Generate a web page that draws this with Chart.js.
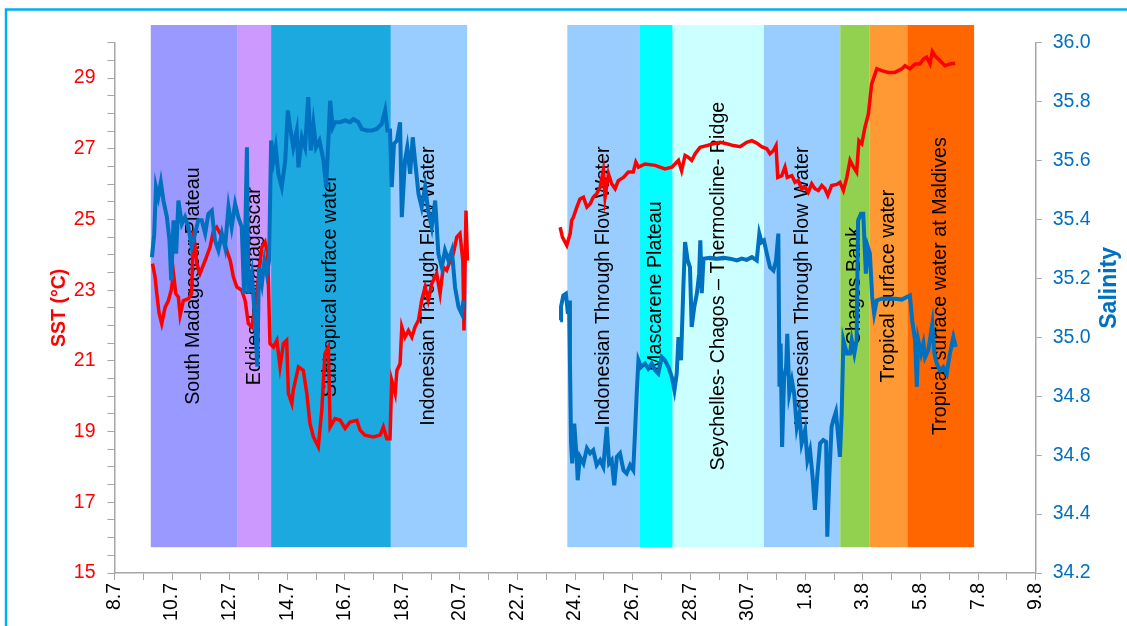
<!DOCTYPE html>
<html>
<head>
<meta charset="utf-8">
<script src="https://cdn.jsdelivr.net/npm/chart.js"></script>
<style>
  html, body { margin: 0; padding: 0; background: #fff; }
  #wrap { width: 1127px; height: 626px; }
</style>
</head>
<body>
<div id="wrap"><canvas id="sstChart" width="1127" height="626"></canvas></div>
<script>
// x axis: days since 8 July, one tick label every two days
const xTickLabels = ['8.7', '10.7', '12.7', '14.7', '16.7', '18.7', '20.7', '22.7', '24.7',
  '26.7', '28.7', '30.7', '1.8', '3.8', '5.8', '7.8', '9.8'];
const sstTickLabels = ['15', '17', '19', '21', '23', '25', '27', '29'];
const salTickLabels = ['34.2', '34.4', '34.6', '34.8', '35.0', '35.2', '35.4', '35.6', '35.8', '36.0'];

// water masses crossed along the track (start / end day)
const regionNames = ['South Madagascar Plateau', 'Eddies E. Madagascar', 'Subtropical surface water',
  'Indonesian Through Flow Water', 'Indonesian Through Flow Water', 'Mascarene Plateau',
  'Seychelles- Chagos \u2013 Thermocline- Ridge', 'Indonesian Through Flow Water', 'Chagos Bank',
  'Tropical surface water', 'Tropical surface water at Maldives'];
const regionStart = [1.26, 4.26, 5.44, 9.6, 15.73, 18.23, 19.39, 22.56, 25.21, 26.22, 27.54];
const regionEnd = [4.26, 5.44, 9.6, 12.25, 18.23, 19.39, 22.56, 25.21, 26.22, 27.54, 29.86];
const regionColors = ['#9999FF', '#CC99FF', '#1CA9DF', '#99CCFF', '#99CCFF', '#00FFFF',
  '#CCFFFF', '#99CCFF', '#92D050', '#FF9933', '#FF6600'];

// SST (°C), [day, value]
const sstLeg1 = [[1.32,23.75],[1.41,23.37],[1.47,22.9],[1.55,22.34],[1.64,22.05],[1.76,22.52],[1.87,22.7],
  [1.97,23.0],[2.05,23.47],[2.13,22.9],[2.22,22.8],[2.28,22.29],[2.39,22.7],[2.57,22.76],[2.68,22.9],
  [2.74,24.69],[2.86,23.75],[2.97,23.47],[3.15,23.84],[3.32,24.22],[3.44,24.69],[3.55,24.78],[3.67,24.6],
  [3.78,24.5],[3.9,24.12],[4.02,23.84],[4.13,23.37],[4.25,23.09],[4.42,23.0],[4.54,22.7],[4.65,22.05],
  [4.77,21.96],[4.94,22.9],[5.12,24.22],[5.23,24.36],[5.32,24.03],[5.4,21.49],[5.52,21.39],[5.64,21.58],
  [5.75,20.83],[5.87,21.49],[5.98,21.58],[6.04,20.08],[6.16,19.8],[6.21,20.17],[6.39,20.83],[6.56,20.73],
  [6.68,20.08],[6.79,19.23],[6.91,18.85],[7.08,18.57],[7.2,19.6],[7.31,21.2],[7.43,21.39],[7.49,19.13],
  [7.66,19.37],[7.84,19.32],[8.01,19.09],[8.18,19.27],[8.42,19.32],[8.53,19.04],[8.7,18.9],[8.99,18.85],
  [9.23,18.9],[9.34,19.13],[9.46,18.8],[9.57,18.8],[9.63,20.45],[9.75,20.08],[9.81,20.73],[9.92,20.92],
  [9.98,21.96],[10.09,21.67],[10.21,21.86],[10.33,21.67],[10.44,21.96],[10.56,22.15],[10.67,22.71],
  [10.79,23.09],[10.9,22.71],[11.02,23.18],[11.19,23.47],[11.31,22.9],[11.42,23.65],[11.54,23.56],
  [11.66,23.84],[11.77,24.03],[11.89,24.5],[12.0,24.6],[12.1,23.84],[12.14,21.86],[12.21,25.25],[12.26,23.84]];
const sstLeg2 = [[15.48,24.78],[15.56,24.5],[15.71,24.27],[15.83,24.6],[15.88,24.97],[15.94,25.06],
  [16.06,25.35],[16.17,25.58],[16.29,25.63],[16.41,25.35],[16.52,25.44],[16.63,25.63],[16.75,25.73],
  [16.87,25.91],[16.98,26.38],[17.04,25.63],[17.16,26.29],[17.27,26.01],[17.39,25.87],[17.5,26.1],
  [17.68,26.19],[17.85,26.34],[18.02,26.34],[18.11,26.62],[18.2,26.48],[18.43,26.57],[18.78,26.53],
  [19.12,26.43],[19.36,26.48],[19.59,26.67],[19.7,26.38],[19.82,26.81],[19.93,26.76],[20.05,26.67],
  [20.17,26.86],[20.34,27.04],[20.57,27.09],[20.8,27.14],[21.04,27.18],[21.27,27.14],[21.5,27.09],
  [21.73,27.06],[21.96,27.18],[22.14,27.23],[22.31,27.16],[22.48,27.06],[22.66,27.0],[22.77,26.86],
  [22.89,26.95],[22.98,27.09],[23.04,26.19],[23.18,26.24],[23.29,26.48],[23.37,26.19],[23.53,26.24],
  [23.64,26.05],[23.75,26.1],[23.87,25.87],[23.99,25.91],[24.1,25.77],[24.22,26.01],[24.33,25.87],
  [24.45,25.82],[24.57,25.96],[24.68,25.87],[24.78,25.68],[24.91,25.96],[25.09,25.99],[25.2,26.05],
  [25.32,25.82],[25.44,26.19],[25.55,26.67],[25.67,26.48],[25.78,26.34],[25.86,27.23],[25.96,27.14],
  [26.07,27.61],[26.19,27.99],[26.3,28.83],[26.48,29.26],[26.65,29.21],[26.88,29.16],[27.11,29.16],
  [27.35,29.26],[27.46,29.35],[27.63,29.26],[27.81,29.4],[27.98,29.4],[28.1,29.54],[28.21,29.59],
  [28.33,29.4],[28.41,29.75],[28.5,29.63],[28.68,29.49],[28.85,29.35],[29.02,29.4],[29.2,29.42]];

// Salinity, [day, value]
const salLeg1 = [[1.3,35.272],[1.38,35.35],[1.44,35.51],[1.52,35.476],[1.61,35.526],[1.7,35.464],
  [1.82,35.408],[1.91,35.329],[1.97,35.193],[2.05,35.397],[2.14,35.284],[2.22,35.464],[2.34,35.385],
  [2.45,35.408],[2.57,35.374],[2.68,35.306],[2.8,35.352],[2.91,35.397],[3.03,35.397],[3.15,35.352],
  [3.26,35.419],[3.38,35.43],[3.49,35.329],[3.61,35.295],[3.73,35.352],[3.84,35.306],[3.96,35.442],
  [4.07,35.374],[4.19,35.453],[4.3,35.408],[4.42,35.374],[4.5,35.148],[4.6,35.645],[4.65,35.148],
  [4.77,35.216],[4.88,35.058],[4.96,34.9],[5.02,35.238],[5.12,35.182],[5.21,35.261],[5.29,35.216],
  [5.37,35.261],[5.44,35.668],[5.52,35.6],[5.6,35.645],[5.69,35.555],[5.81,35.51],[5.93,35.6],
  [6.02,35.77],[6.1,35.713],[6.21,35.645],[6.33,35.702],[6.39,35.577],[6.51,35.679],[6.62,35.645],
  [6.73,35.815],[6.82,35.634],[6.91,35.724],[7.0,35.645],[7.12,35.668],[7.26,35.6],[7.35,35.51],
  [7.43,35.668],[7.49,35.803],[7.58,35.713],[7.66,35.73],[7.84,35.73],[8.01,35.736],[8.18,35.73],
  [8.3,35.741],[8.47,35.73],[8.59,35.707],[8.76,35.702],[8.94,35.702],[9.11,35.707],[9.28,35.724],
  [9.4,35.77],[9.48,35.702],[9.57,35.702],[9.63,35.51],[9.71,35.657],[9.81,35.668],[9.92,35.73],
  [9.98,35.408],[10.09,35.6],[10.17,35.645],[10.27,35.555],[10.36,35.679],[10.44,35.6],[10.56,35.487],
  [10.67,35.442],[10.79,35.51],[10.9,35.43],[11.02,35.374],[11.14,35.464],[11.25,35.284],[11.37,35.238],
  [11.48,35.295],[11.6,35.261],[11.72,35.295],[11.83,35.17],[11.95,35.103],[12.06,35.08],[12.12,35.125]];
const salLeg2 = [[15.48,35.058],[15.51,35.103],[15.59,35.142],[15.68,35.148],[15.75,35.08],[15.79,35.125],
  [15.82,34.922],[15.86,34.64],[15.9,34.572],[15.97,34.707],[16.06,34.583],[16.09,34.515],[16.17,34.594],
  [16.29,34.572],[16.41,34.623],[16.52,34.606],[16.63,34.617],[16.75,34.566],[16.87,34.583],[16.98,34.56],
  [17.1,34.696],[17.18,34.572],[17.27,34.583],[17.36,34.498],[17.45,34.594],[17.56,34.606],[17.68,34.549],
  [17.79,34.538],[17.91,34.566],[18.02,34.549],[18.08,34.674],[18.14,34.809],[18.2,34.922],[18.29,34.899],
  [18.43,34.911],[18.54,34.894],[18.66,34.911],[18.78,34.888],[18.89,34.877],[19.01,34.933],[19.12,34.922],
  [19.24,34.899],[19.36,34.865],[19.45,34.82],[19.53,34.877],[19.59,35.001],[19.68,34.922],[19.76,35.17],
  [19.82,35.323],[19.91,35.261],[19.99,35.238],[20.05,35.035],[20.14,35.103],[20.23,35.148],[20.31,35.216],
  [20.35,35.329],[20.4,35.15],[20.46,35.267],[20.69,35.27],[20.92,35.267],[21.15,35.27],[21.38,35.267],
  [21.62,35.261],[21.79,35.267],[21.96,35.263],[22.14,35.272],[22.31,35.261],[22.4,35.352],[22.48,35.323],
  [22.56,35.329],[22.66,35.284],[22.77,35.238],[22.89,35.227],[22.98,35.261],[23.06,35.352],[23.1,34.832],
  [23.14,34.979],[23.19,34.628],[23.26,34.865],[23.33,34.899],[23.37,35.012],[23.44,34.809],[23.53,34.854],
  [23.61,34.809],[23.7,34.696],[23.79,34.741],[23.87,34.64],[23.99,34.685],[24.07,34.583],[24.16,34.617],
  [24.25,34.526],[24.33,34.414],[24.41,34.526],[24.51,34.64],[24.62,34.651],[24.72,34.645],[24.76,34.323],
  [24.83,34.526],[24.91,34.696],[24.97,34.719],[25.06,34.747],[25.14,34.662],[25.2,34.594],[25.26,34.741],
  [25.32,34.99],[25.44,34.945],[25.55,34.945],[25.61,34.99],[25.7,34.945],[25.78,34.99],[25.83,35.397],
  [25.93,35.419],[26.01,35.419],[26.1,35.216],[26.17,35.306],[26.24,35.284],[26.32,35.137],[26.39,35.08],
  [26.48,35.125],[26.65,35.131],[26.88,35.131],[27.11,35.131],[27.35,35.128],[27.52,35.137],[27.63,35.142],
  [27.71,35.058],[27.81,34.99],[27.87,34.832],[27.92,34.99],[28.02,34.945],[28.1,34.979],[28.16,34.933],
  [28.27,34.956],[28.41,35.046],[28.48,34.945],[28.56,34.911],[28.68,34.888],[28.79,34.899],[28.91,34.877],
  [29.02,34.945],[29.14,35.001],[29.22,34.967]];

const gapDay = 14; // no data between the two legs
const FONT = '"Liberation Sans", Arial, sans-serif';
const AXIS_GREY = '#A6A6A6';

function toPoints(leg1, leg2) {
  const pts = leg1.map(p => ({ x: p[0], y: p[1] }));
  pts.push({ x: gapDay, y: null });
  return pts.concat(leg2.map(p => ({ x: p[0], y: p[1] })));
}

// coloured bands with their names, drawn under the lines
const regionPlugin = {
  id: 'regions',
  beforeDatasetsDraw(chart) {
    const { ctx, scales: { x, y } } = chart;
    const top = y.getPixelForValue(30.5);
    const bottom = y.getPixelForValue(15.73);
    ctx.save();
    regionNames.forEach((name, i) => {
      const x0 = x.getPixelForValue(regionStart[i]);
      const x1 = x.getPixelForValue(regionEnd[i]);
      ctx.fillStyle = regionColors[i];
      ctx.fillRect(x0, top, x1 - x0, bottom - top);
    });
    ctx.fillStyle = '#000';
    ctx.font = '19.7px ' + FONT;
    ctx.textAlign = 'center';
    ctx.textBaseline = 'middle';
    regionNames.forEach((name, i) => {
      const cx = (x.getPixelForValue(regionStart[i]) + x.getPixelForValue(regionEnd[i])) / 2;
      ctx.save();
      ctx.translate(cx, (top + bottom) / 2);
      ctx.rotate(-Math.PI / 2);
      ctx.fillText(name, 0, 0);
      ctx.restore();
    });
    ctx.restore();
  }
};

// outer frame and both axis titles (both read bottom to top)
const framePlugin = {
  id: 'frame',
  beforeDraw(chart) {
    const ctx = chart.ctx;
    ctx.save();
    ctx.strokeStyle = '#00B0F0';
    ctx.lineWidth = 2.5;
    ctx.strokeRect(6, 9.5, 1400, 900);
    ctx.restore();
  },
  afterDraw(chart) {
    const { ctx, chartArea } = chart;
    const mid = (chartArea.top + chartArea.bottom) / 2;
    ctx.save();
    ctx.textAlign = 'center';
    ctx.textBaseline = 'middle';
    ctx.fillStyle = '#FF0000';
    ctx.font = 'bold 19.5px ' + FONT;
    ctx.translate(60, mid);
    ctx.rotate(-Math.PI / 2);
    ctx.fillText('SST (\u00B0C)', 0, 0);
    ctx.restore();
    ctx.save();
    ctx.textAlign = 'center';
    ctx.textBaseline = 'middle';
    ctx.fillStyle = '#0070C0';
    ctx.font = 'bold 23px ' + FONT;
    ctx.translate(1110, mid - 20);
    ctx.rotate(-Math.PI / 2);
    ctx.fillText('Salinity', 0, 0);
    ctx.restore();
  }
};

new Chart(document.getElementById('sstChart'), {
  type: 'line',
  data: {
    datasets: [
      {
        label: 'SST',
        data: toPoints(sstLeg1, sstLeg2),
        borderColor: '#FF0000',
        borderWidth: 3.5,
        pointRadius: 0,
        tension: 0,
        yAxisID: 'y',
        order: 2
      },
      {
        label: 'Salinity',
        data: toPoints(salLeg1, salLeg2),
        borderColor: '#0070C0',
        borderWidth: 4,
        pointRadius: 0,
        tension: 0,
        yAxisID: 'y2',
        order: 1
      }
    ]
  },
  options: {
    responsive: false,
    animation: false,
    layout: { padding: { top: 42.7, left: 0, right: 0, bottom: 0 } },
    plugins: { legend: { display: false }, tooltip: { enabled: false } },
    scales: {
      x: {
        type: 'linear',
        min: 0,
        max: 32,
        afterFit(s) { s.height = 53; },
        ticks: {
          stepSize: 1,
          autoSkip: false,
          minRotation: 90,
          maxRotation: 90,
          padding: 3,
          color: '#000',
          font: { size: 19.5, family: FONT },
          callback: v => (v % 2 === 0 ? xTickLabels[v / 2] : '')
        },
        grid: { drawOnChartArea: false, tickLength: 7, color: AXIS_GREY },
        border: { color: AXIS_GREY, width: 1.5 }
      },
      y: {
        position: 'left',
        min: 15,
        max: 30,
        afterFit(s) { s.width = 114.5; },
        ticks: {
          stepSize: 0.5,
          autoSkip: false,
          padding: 12,
          color: '#FF0000',
          font: { size: 19.5, family: FONT },
          callback: v => {
            const k = (v - 15) / 2;
            return Math.abs(k - Math.round(k)) < 1e-6 ? sstTickLabels[Math.round(k)] : '';
          }
        },
        grid: { drawOnChartArea: false, tickLength: 7, color: AXIS_GREY },
        border: { color: AXIS_GREY, width: 1.5 }
      },
      y2: {
        position: 'right',
        min: 34.2,
        max: 36,
        afterFit(s) { s.width = 1127 - 1035.7; },
        ticks: {
          stepSize: 0.2,
          autoSkip: false,
          padding: 11,
          color: '#0070C0',
          font: { size: 19.5, family: FONT },
          callback: (v, i) => salTickLabels[i] || v.toFixed(1)
        },
        grid: { drawOnChartArea: false, tickLength: 6, color: AXIS_GREY },
        border: { color: AXIS_GREY, width: 1.5 }
      }
    }
  },
  plugins: [framePlugin, regionPlugin]
});
</script>
</body>
</html>
